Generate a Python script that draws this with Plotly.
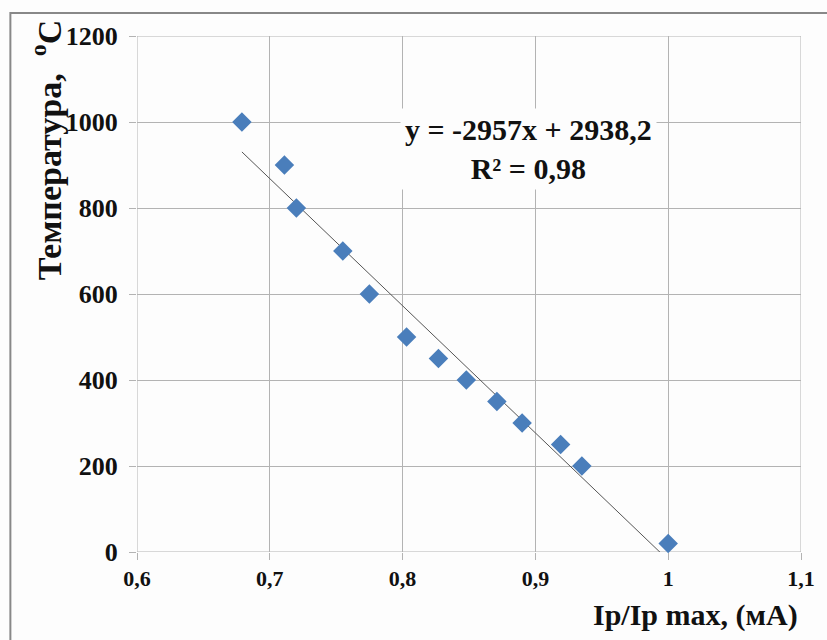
import numpy as np
import plotly.graph_objects as go

# Data
ratio = [0.679, 0.711, 0.720, 0.755, 0.775, 0.803, 0.827, 0.848, 0.871, 0.890, 0.919, 0.935, 1.000]
temperature = [1000, 900, 800, 700, 600, 500, 450, 400, 350, 300, 250, 200, 20]

# Trendline coefficients (as printed on the chart)
slope = -2957
intercept = 2938.2
eq_text = "y = -2957x + 2938,2<br>R² = 0,98"

x_ticks = [0.6, 0.7, 0.8, 0.9, 1.0, 1.1]
x_tick_labels = ["0,6", "0,7", "0,8", "0,9", "1", "1,1"]
y_ticks = [0, 200, 400, 600, 800, 1000, 1200]

FONT = "Liberation Serif"

tx = np.array([min(ratio), max(ratio)])
ty = slope * tx + intercept

fig = go.Figure()
fig.add_trace(go.Scatter(
    x=tx, y=ty, mode="lines",
    line=dict(color="#555555", width=1),
    showlegend=False, hoverinfo="skip",
))
fig.add_trace(go.Scatter(
    x=ratio, y=temperature, mode="markers",
    marker=dict(symbol="diamond", size=15, color="#4a7ebb"),
    showlegend=False, cliponaxis=False,
))

fig.update_layout(
    width=827, height=640,
    margin=dict(l=137, r=24, t=36, b=88),
    paper_bgcolor="#fdfdfd",
    plot_bgcolor="#fdfdfd",
    font=dict(family=FONT, color="#111111"),
    xaxis=dict(
        range=[0.6, 1.1], tickvals=x_ticks, ticktext=x_tick_labels,
        showgrid=True, gridcolor="#b3b3b3", gridwidth=1,
        ticks="outside", ticklen=7, tickcolor="#b3b3b3",
        showline=False, zeroline=False,
        tickfont=dict(family=FONT, size=22, color="#111111", weight="bold"),
    ),
    yaxis=dict(
        range=[0, 1200], tickvals=y_ticks,
        showgrid=True, gridcolor="#b3b3b3", gridwidth=1,
        ticks="outside", ticklen=7, tickcolor="#b3b3b3",
        showline=False, zeroline=False, ticklabelstandoff=6,
        tickfont=dict(family=FONT, size=26, color="#111111", weight="bold"),
    ),
    shapes=[
        dict(type="rect", xref="x", yref="y", x0=0.6, x1=1.1, y0=0, y1=1200,
             line=dict(color="#b3b3b3", width=1), layer="below"),
        dict(type="rect", xref="paper", yref="paper",
             x0=(10 - 137) / 666, x1=1.2, y0=-0.3, y1=(552 - 13) / 516,
             line=dict(color="#888888", width=2), fillcolor="rgba(0,0,0,0)"),
    ],
    annotations=[
        dict(x=0.895, y=937, xref="x", yref="y", text=eq_text, showarrow=False,
             xanchor="center", yanchor="middle",
             font=dict(family=FONT, size=30, color="#111111", weight="bold"),
             bgcolor="#fdfdfd", align="center", borderpad=4),
        dict(x=(46 - 137) / 666, y=(552 - 150) / 516, xref="paper", yref="paper",
             xanchor="center", yanchor="middle",
             text="Температура,  <sup>o</sup>C", textangle=-90, showarrow=False,
             font=dict(family=FONT, size=34, color="#111111", weight="bold")),
        dict(x=(697 - 137) / 666, y=-(615 - 552) / 516, xref="paper", yref="paper",
             xanchor="center", yanchor="middle",
             text="Ip/Ip max, (мА)", showarrow=False,
             font=dict(family=FONT, size=30, color="#111111", weight="bold")),
    ],
)

fig.write_html("out.html")
